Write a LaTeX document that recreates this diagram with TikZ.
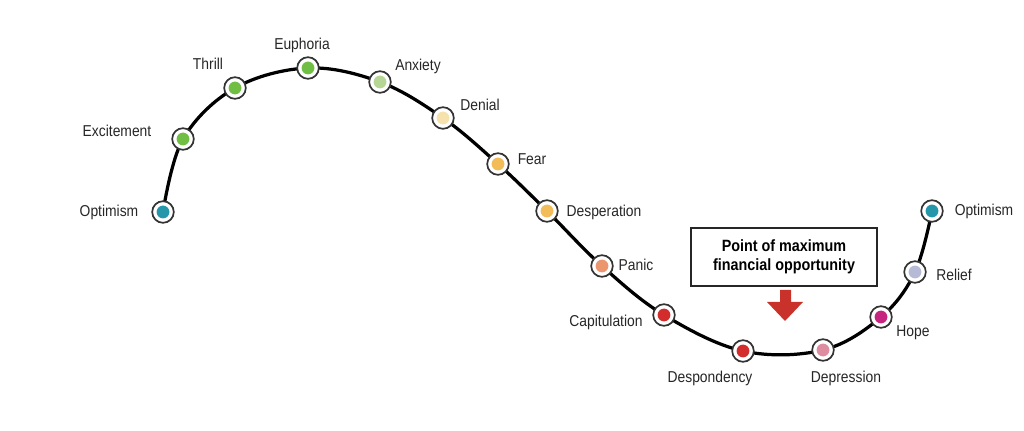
\documentclass[tikz,border=0pt]{standalone}
\usepackage{fontspec}
\setmainfont[FakeStretch=0.88]{Liberation Sans}
\usepackage{tikz}
\usetikzlibrary{arrows.meta}

\definecolor{cOpt}{RGB}{38,150,170}
\definecolor{cGreen}{RGB}{112,190,68}
\definecolor{cAnx}{RGB}{182,214,150}
\definecolor{cDen}{RGB}{246,226,172}
\definecolor{cFear}{RGB}{242,188,88}
\definecolor{cPanic}{RGB}{236,150,112}
\definecolor{cRed}{RGB}{210,44,44}
\definecolor{cDepr}{RGB}{222,140,160}
\definecolor{cHope}{RGB}{198,38,128}
\definecolor{cRel}{RGB}{182,186,212}
\definecolor{cArrow}{RGB}{200,50,42}

\tikzset{
  stage/.style={circle, draw=black!80, line width=1.2pt, fill=white,
    minimum size=0.54cm, inner sep=0pt,
    path picture={\fill[#1] (path picture bounding box.center) circle (0.16cm);}},
  tag/.style={font=\fontsize{11.2}{13}\selectfont, text=black!85, inner sep=1pt},
}

\begin{document}
\begin{tikzpicture}[x=0.025cm, y=-0.025cm]
                \useasboundingbox (0,0) rectangle (1024,431);

                % Stage positions
                \coordinate (p1) at (163,212);
                \coordinate (p2) at (183,139);
                \coordinate (p3) at (235,88);
                \coordinate (p4) at (308,68);
                \coordinate (p5) at (380,82);
                \coordinate (p6) at (443,118);
                \coordinate (p7) at (498,164);
                \coordinate (p8) at (547,211);
                \coordinate (p9) at (602,266);
                \coordinate (p10) at (664,315);
                \coordinate (p11) at (743,351);
                \coordinate (p12) at (823,350);
                \coordinate (p13) at (881,317);
                \coordinate (p14) at (915,272);
                \coordinate (p15) at (932,211);

                % Cycle curve
                \draw[line width=2.3pt, black] plot[smooth, tension=0.6] coordinates {(p1) (p2) (p3) (p4) (p5) (p6) (p7) (p8) (p9) (p10) (p11) (p12) (p13) (p14) (p15)};

                % Stage markers
                \node[stage=cOpt] (optA) at (p1) {};
                \node[stage=cGreen] (excite) at (p2) {};
                \node[stage=cGreen] (thrill) at (p3) {};
                \node[stage=cGreen] (euph) at (p4) {};
                \node[stage=cAnx] (anx) at (p5) {};
                \node[stage=cDen] (denial) at (p6) {};
                \node[stage=cFear] (fear) at (p7) {};
                \node[stage=cFear] (desp) at (p8) {};
                \node[stage=cPanic] (panic) at (p9) {};
                \node[stage=cRed] (capit) at (p10) {};
                \node[stage=cRed] (despond) at (p11) {};
                \node[stage=cDepr] (depr) at (p12) {};
                \node[stage=cHope] (hope) at (p13) {};
                \node[stage=cRel] (relief) at (p14) {};
                \node[stage=cOpt] (optB) at (p15) {};

                % Stage labels
                \node[tag] (lOptA) at (109,212) {Optimism};
                \node[tag] (lExcite) at (117,131) {Excitement};
                \node[tag] (lThrill) at (208,64) {Thrill};
                \node[tag] (lEuph) at (302,45) {Euphoria};
                \node[tag] (lAnx) at (418,66) {Anxiety};
                \node[tag] (lDenial) at (480,105) {Denial};
                \node[tag] (lFear) at (532,159) {Fear};
                \node[tag] (lDesp) at (604,212) {Desperation};
                \node[tag] (lPanic) at (636,265) {Panic};
                \node[tag] (lCapit) at (606,322) {Capitulation};
                \node[tag] (lDespond) at (710,378) {Despondency};
                \node[tag] (lDepr) at (846,378) {Depression};
                \node[tag] (lHope) at (913,333) {Hope};
                \node[tag] (lRelief) at (954,275) {Relief};
                \node[tag] (lOptB) at (984,211) {Optimism};

                % Opportunity box
                \node[draw, line width=1.2pt, black!85, minimum width=4.65cm, minimum height=1.45cm,
                      align=center, font=\fontsize{11.6}{13.5}\selectfont\bfseries, text=black]
                      (opp) at (784,257) {Point of maximum\\financial opportunity};

                % Red arrow pointing down
                \fill[cArrow] (780,290) -- (791,290) -- (791,302) -- (803,302) -- (785,321)
                      -- (767,302) -- (780,302) -- cycle;
            \end{tikzpicture}
\end{document}
